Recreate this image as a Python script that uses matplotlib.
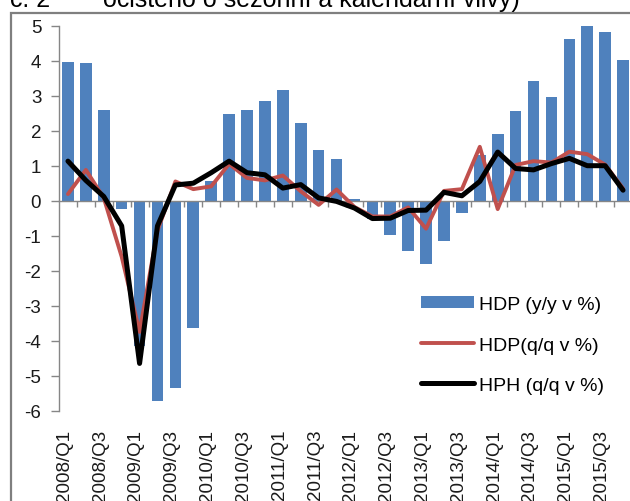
import matplotlib
matplotlib.use("Agg")
import matplotlib.pyplot as plt
import matplotlib.transforms as mtransforms
from matplotlib.patches import Rectangle
import numpy as np

plt.rcParams['font.family'] = ['Liberation Sans', 'DejaVu Sans']

# ---- data ----
years = [2008, 2009, 2010, 2011, 2012, 2013, 2014, 2015]
quarter_names = ["Q1", "Q2", "Q3", "Q4"]
quarters = [f"{y}/{q}" for y in years for q in quarter_names]

hdp_yy = [3.97, 3.93, 2.60, -0.23, -4.15, -5.72, -5.35, -3.63,
          0.57, 2.49, 2.60, 2.86, 3.15, 2.23, 1.46, 1.20,
          0.06, -0.53, -0.97, -1.45, -1.81, -1.15, -0.34, 1.30,
          1.90, 2.57, 3.42, 2.97, 4.63, 4.99, 4.82, 4.03]

hdp_qq = [0.19, 0.88, 0.08, -1.60, -3.75, -0.85, 0.55, 0.33,
          0.41, 1.05, 0.65, 0.58, 0.72, 0.27, -0.12, 0.32,
          -0.18, -0.45, -0.45, -0.19, -0.80, 0.28, 0.33, 1.54,
          -0.24, 1.02, 1.13, 1.09, 1.40, 1.33, 1.03, 0.35]

hph_qq = [1.13, 0.58, 0.12, -0.72, -4.65, -0.72, 0.45, 0.50,
          0.80, 1.13, 0.80, 0.74, 0.36, 0.46, 0.08, -0.02,
          -0.21, -0.51, -0.50, -0.28, -0.27, 0.24, 0.14, 0.55,
          1.39, 0.92, 0.88, 1.06, 1.21, 1.00, 1.00, 0.30]

legend_labels = ["HDP (y/y v %)", "HDP(q/q v %)", "HPH (q/q v %)"]
title_num = "č. 2"
title_text = "očištěno o sezónní a kalendářní vlivy)"

# ---- figure ----
W, H = 630, 502
fig = plt.figure(figsize=(W / 100, H / 100), dpi=100)
ax = fig.add_axes([59 / W, (H - 411.7) / H, 573 / W, 385 / H])

x = np.arange(len(quarters))
bar_c = '#4F81BD'
red_c = '#C0504D'
gray = '#868686'

bars = ax.bar(x, hdp_yy, width=0.65, color=bar_c, label=legend_labels[0], zorder=2)
l_red, = ax.plot(x, hdp_qq, color=red_c, lw=2.8, label=legend_labels[1], zorder=3,
                 solid_joinstyle='round', solid_capstyle='round')
l_blk, = ax.plot(x, hph_qq, color='black', lw=3.6, label=legend_labels[2], zorder=4,
                 solid_joinstyle='round', solid_capstyle='round')

ax.set_xlim(-0.5, len(quarters) - 0.5)
ax.set_ylim(-6, 5)

for s in ['top', 'right']:
    ax.spines[s].set_visible(False)
ax.spines['left'].set_color(gray)
ax.spines['left'].set_linewidth(1.0)
ax.spines['bottom'].set_position(('data', 0))
ax.spines['bottom'].set_color(gray)
ax.spines['bottom'].set_linewidth(1.0)

ax.set_yticks(np.arange(-6, 6, 1))
ax.set_yticklabels([str(v) for v in range(-6, 6)])
ax.tick_params(axis='y', direction='out', length=5.8, width=1, color=gray,
               pad=7, labelsize=13.5, labelcolor='#1a1a1a')

ax.set_xticks(np.arange(0.5, len(quarters) - 1, 1))
ax.tick_params(axis='x', direction='out', length=4, width=1, color=gray,
               labelbottom=False)

trans = mtransforms.blended_transform_factory(ax.transData, ax.transAxes)
for i, q in enumerate(quarters):
    if q.endswith("Q1") or q.endswith("Q3"):
        ax.text(i - 0.2, -0.047, q, transform=trans, rotation=90,
                ha='center', va='top', fontsize=13.5, color='#1a1a1a',
                clip_on=False)

leg = ax.legend([bars, l_red, l_blk], legend_labels,
                loc='center left', bbox_to_anchor=(421 / W, (H - 346) / H),
                bbox_transform=fig.transFigure, frameon=False, fontsize=14,
                handlelength=2.75, handletextpad=0.22, labelspacing=1.2,
                borderpad=0, borderaxespad=0, handleheight=0.6)

# frame and title
fig.add_artist(Rectangle((11 / W, -0.2), 1.5, (H - 14) / H + 0.2,
                         transform=fig.transFigure, fill=False,
                         edgecolor='#7f7f7f', lw=1.6))
fig.text(10 / W, (H - 7) / H, title_num, fontsize=18, va='baseline', ha='left')
fig.text(103 / W, (H - 7) / H, title_text, fontsize=18, va='baseline', ha='left')

fig.savefig("out.png", dpi=100)
